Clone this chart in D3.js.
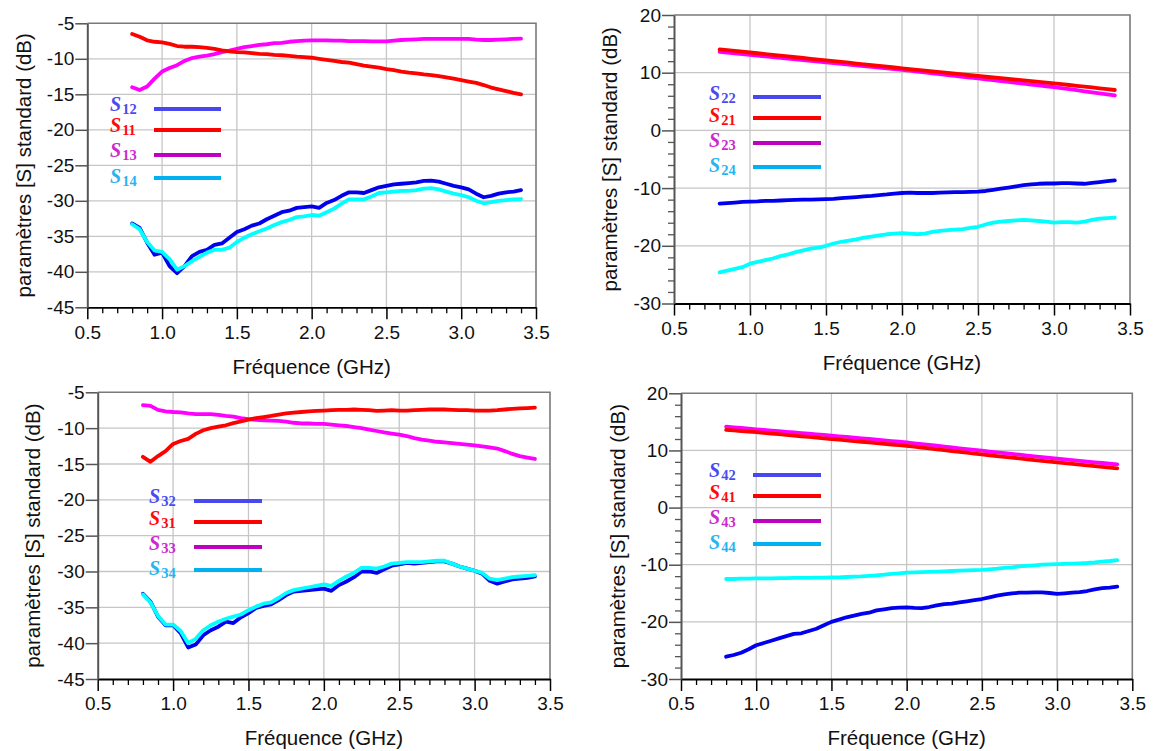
<!DOCTYPE html>
<html><head><meta charset="utf-8">
<script src="https://cdn.jsdelivr.net/npm/d3@7"></script>
<style>body{margin:0;background:#fff}svg{display:block}</style>
</head><body>
<svg id="c" width="1153" height="751"></svg>
<script>
// ---------- DATA ----------
const freq = [0.80,0.85,0.90,0.95,1.00,1.05,1.10,1.15,1.20,1.25,1.30,1.35,1.40,1.45,1.50,1.55,1.60,1.65,1.70,1.75,1.80,1.85,1.90,1.95,2.00,2.05,2.10,2.15,2.20,2.25,2.30,2.35,2.40,2.45,2.50,2.55,2.60,2.65,2.70,2.75,2.80,2.85,2.90,2.95,3.00,3.05,3.10,3.15,3.20,3.25,3.30,3.35,3.40];

const xTickLabels = [0.5,1.0,1.5,2.0,2.5,3.0,3.5];
const yTickLabelsA = [-45,-40,-35,-30,-25,-20,-15,-10,-5];
const yTickLabelsB = [-30,-20,-10,0,10,20];

// Panel 1
const S12 = [-33.2,-33.8,-35.9,-37.6,-37.3, -39.2,-40.2,-39.2,-37.8,-37.2,-36.9,-36.2,-36.0,-35.2,-34.4, -34.0,-33.5,-33.2,-32.6,-32.1,-31.6,-31.4,-31.0,-30.9,-30.8, -31.0,-30.3,-29.9,-29.3,-28.8,-28.8,-28.9,-28.5,-28.1,-27.9, -27.7,-27.6,-27.5,-27.4,-27.2,-27.15,-27.3,-27.6,-27.9,-28.1, -28.4,-29.0,-29.5,-29.3,-29.0,-28.8,-28.7,-28.5];
const S11 = [-6.5,-6.9,-7.4,-7.6,-7.7, -7.9,-8.2,-8.3,-8.3,-8.35,-8.45,-8.6,-8.8,-8.95,-9.05, -9.1,-9.2,-9.3,-9.35,-9.45,-9.5,-9.6,-9.7,-9.75,-9.85, -10.0,-10.15,-10.3,-10.45,-10.55,-10.75,-10.95,-11.1,-11.25,-11.45, -11.6,-11.8,-11.95,-12.05,-12.2,-12.3,-12.45,-12.6,-12.8,-13.0, -13.2,-13.4,-13.7,-14.05,-14.3,-14.55,-14.8,-15.0];
const S13 = [-14.0,-14.4,-13.9,-12.8,-11.8, -11.3,-10.9,-10.3,-9.9,-9.7,-9.55,-9.35,-9.05,-8.85,-8.6, -8.35,-8.2,-8.05,-7.95,-7.8,-7.75,-7.6,-7.5,-7.45,-7.4, -7.4,-7.4,-7.45,-7.45,-7.5,-7.5,-7.5,-7.55,-7.55,-7.55, -7.45,-7.35,-7.3,-7.25,-7.2,-7.2,-7.2,-7.2,-7.2,-7.2, -7.2,-7.3,-7.35,-7.35,-7.3,-7.25,-7.2,-7.15];
const S14 = [-33.3,-34.0,-35.8,-37.0,-37.2, -38.2,-39.7,-39.2,-38.5,-37.9,-37.3,-36.9,-36.9,-36.6,-35.8, -35.2,-34.7,-34.3,-33.9,-33.4,-33.0,-32.7,-32.3,-32.2,-32.0, -32.1,-31.6,-31.1,-30.4,-29.8,-29.8,-29.8,-29.4,-28.9,-28.8, -28.7,-28.6,-28.6,-28.5,-28.3,-28.2,-28.4,-28.7,-29.0,-29.2, -29.5,-30.0,-30.35,-30.2,-30.0,-29.9,-29.8,-29.75];

// Panel 2
const S22 = [-12.7,-12.6,-12.5,-12.4,-12.35, -12.3,-12.2,-12.2,-12.15,-12.1,-12.05,-12.0,-12.0,-11.95,-11.9, -11.85,-11.75,-11.65,-11.55,-11.45,-11.35,-11.2,-11.1,-10.95,-10.85, -10.8,-10.85,-10.85,-10.85,-10.8,-10.75,-10.7,-10.7,-10.65,-10.6, -10.5,-10.3,-10.1,-9.9,-9.7,-9.5,-9.35,-9.25,-9.2,-9.2, -9.15,-9.15,-9.2,-9.25,-9.1,-8.95,-8.8,-8.65];
const S21 = [14.05,13.91,13.78,13.64,13.5, 13.37,13.23,13.09,12.96,12.82,12.68,12.55,12.41,12.27,12.14, 12.0,11.86,11.73,11.59,11.45,11.31,11.18,11.04,10.9,10.76, 10.63,10.5,10.36,10.23,10.1,9.96,9.83,9.7,9.56,9.43, 9.3,9.18,9.05,8.92,8.79,8.67,8.54,8.41,8.29,8.16, 8.02,7.87,7.73,7.58,7.44,7.29,7.15,7.0];
const S23 = [13.6,13.47,13.34,13.21,13.08, 12.95,12.83,12.7,12.57,12.44,12.31,12.18,12.05,11.92,11.79, 11.66,11.53,11.4,11.27,11.14,11.01,10.88,10.76,10.63,10.5, 10.35,10.2,10.05,9.9,9.75,9.6,9.45,9.3,9.15,9.0, 8.85,8.7,8.55,8.4,8.25,8.1,7.95,7.8,7.65,7.5, 7.32,7.14,6.96,6.78,6.6,6.42,6.24,6.05];
const S24 = [-24.6,-24.3,-24.0,-23.7,-23.1, -22.8,-22.5,-22.2,-21.8,-21.5,-21.1,-20.8,-20.5,-20.3,-20.0, -19.6,-19.3,-19.1,-18.9,-18.6,-18.4,-18.2,-18.0,-17.9,-17.8, -17.9,-18.0,-17.9,-17.6,-17.4,-17.3,-17.2,-17.1,-16.9,-16.7, -16.3,-16.0,-15.8,-15.7,-15.6,-15.5,-15.6,-15.7,-15.8,-16.0, -15.9,-15.9,-16.0,-15.8,-15.5,-15.3,-15.2,-15.1];

// Panel 3
const S32 = [-33.1,-34.2,-36.3,-37.5,-37.5, -38.6,-40.6,-40.2,-38.9,-38.2,-37.7,-37.0,-37.2,-36.4,-35.8, -35.1,-34.8,-34.6,-34.0,-33.3,-32.8,-32.7,-32.6,-32.5,-32.4, -32.7,-31.9,-31.4,-30.8,-30.0,-30.0,-30.2,-29.7,-29.2,-29.0, -28.8,-28.9,-28.8,-28.7,-28.6,-28.6,-28.9,-29.3,-29.6,-29.9, -30.3,-31.3,-31.7,-31.4,-31.1,-31.0,-30.9,-30.7];
const S31 = [-14.0,-14.7,-13.9,-13.2,-12.2, -11.8,-11.5,-10.8,-10.3,-10.0,-9.8,-9.6,-9.3,-9.05,-8.8, -8.6,-8.45,-8.3,-8.1,-7.95,-7.85,-7.75,-7.65,-7.6,-7.55, -7.5,-7.45,-7.45,-7.4,-7.45,-7.5,-7.6,-7.55,-7.5,-7.55, -7.55,-7.5,-7.45,-7.4,-7.4,-7.4,-7.45,-7.5,-7.5,-7.55, -7.55,-7.55,-7.5,-7.4,-7.3,-7.25,-7.2,-7.15];
const S33 = [-6.8,-6.9,-7.45,-7.65,-7.75, -7.8,-7.95,-8.05,-8.05,-8.05,-8.15,-8.3,-8.4,-8.6,-8.75, -8.85,-8.9,-8.95,-9.0,-9.1,-9.25,-9.35,-9.35,-9.4,-9.4, -9.5,-9.6,-9.7,-9.85,-10.0,-10.2,-10.4,-10.6,-10.75,-10.9, -11.1,-11.4,-11.6,-11.75,-11.9,-12.0,-12.1,-12.2,-12.3,-12.4, -12.55,-12.7,-12.85,-13.2,-13.6,-13.9,-14.1,-14.3];
const S34 = [-33.2,-34.3,-36.2,-37.4,-37.4, -38.3,-40.0,-39.4,-38.2,-37.5,-37.0,-36.6,-36.3,-36.0,-35.4, -34.9,-34.5,-34.3,-33.7,-33.0,-32.6,-32.4,-32.2,-32.0,-31.8, -32.0,-31.3,-30.7,-30.2,-29.5,-29.5,-29.6,-29.3,-28.9,-28.8, -28.7,-28.7,-28.7,-28.6,-28.5,-28.5,-28.9,-29.3,-29.6,-29.9, -30.2,-31.0,-31.2,-31.0,-30.8,-30.7,-30.6,-30.5];

// Panel 4
const S42 = [-26.1,-25.8,-25.4,-24.8,-24.1, -23.7,-23.3,-22.9,-22.5,-22.1,-22.0,-21.6,-21.2,-20.6,-20.0, -19.6,-19.2,-18.9,-18.6,-18.4,-18.0,-17.8,-17.6,-17.5,-17.45, -17.55,-17.6,-17.4,-17.1,-16.9,-16.8,-16.6,-16.4,-16.2,-16.0, -15.7,-15.4,-15.2,-15.0,-14.9,-14.9,-14.85,-14.85,-14.95,-15.1, -15.0,-14.9,-14.8,-14.6,-14.3,-14.1,-14.0,-13.85];
const S41 = [13.6,13.5,13.4,13.3,13.2, 13.08,12.96,12.84,12.72,12.6,12.48,12.36,12.24,12.12,12.0, 11.88,11.76,11.64,11.52,11.4,11.28,11.16,11.04,10.92,10.8, 10.65,10.5,10.35,10.2,10.05,9.9,9.75,9.6,9.45,9.3, 9.16,9.02,8.88,8.74,8.6,8.46,8.32,8.18,8.04,7.9, 7.77,7.64,7.51,7.38,7.25,7.12,7.0,6.88];
const S43 = [14.15,14.04,13.93,13.81,13.7, 13.59,13.48,13.37,13.26,13.15,13.04,12.93,12.82,12.71,12.6, 12.48,12.36,12.24,12.12,12.0,11.88,11.76,11.64,11.52,11.4, 11.25,11.11,10.96,10.82,10.67,10.53,10.38,10.24,10.09,9.95, 9.81,9.67,9.53,9.39,9.25,9.11,8.97,8.83,8.69,8.55, 8.42,8.3,8.17,8.05,7.92,7.8,7.67,7.55];
const S44 = [-12.5,-12.5,-12.45,-12.45,-12.4, -12.4,-12.4,-12.35,-12.35,-12.3,-12.3,-12.3,-12.25,-12.25,-12.2, -12.2,-12.15,-12.1,-12.05,-11.95,-11.85,-11.75,-11.6,-11.5,-11.4, -11.35,-11.3,-11.25,-11.2,-11.15,-11.1,-11.05,-11.0,-10.95,-10.9, -10.8,-10.7,-10.55,-10.45,-10.3,-10.2,-10.1,-10.0,-9.95,-9.9, -9.85,-9.8,-9.75,-9.7,-9.6,-9.45,-9.35,-9.2];

const subs1 = ["12","11","13","14"];
const subs2 = ["22","21","23","24"];
const subs3 = ["32","31","33","34"];
const subs4 = ["42","41","43","44"];

// ---------- STYLE ----------
const lineColors   = ["#0000ee","#ff0000","#ff00ff","#00ffff"];
const legLineCols  = ["#4848ee","#ff0000","#c000c0","#00b0f0"];
const legTextCols  = ["#4a4af0","#ff0a0a","#cc2acc","#28b4f0"];
const drawOrder = [0,3,2,1]; // blue, cyan, magenta, red

const panels = [
  {x0:87.3,x1:536,y0:23.3,y1:307.3,dom:[-45,-5],yt:yTickLabelsA,minorY:false,
   series:[S12,S11,S13,S14],subs:subs1,legX:110,legL:[154,221],legLineY:[109,130,155,178],legTextY:[111,132,157,183],yTitleX:31,xTitleY:374},
  {x0:674,x1:1130,y0:15,y1:303.5,dom:[-30,20],yt:yTickLabelsB,minorY:true,
   series:[S22,S21,S23,S24],subs:subs2,legX:709,legL:[753,821],legLineY:[97,118,143,167],legTextY:[100,122,147,172],yTitleX:617,xTitleY:370},
  {x0:97.7,x1:550,y0:392.3,y1:679,dom:[-45,-5],yt:yTickLabelsA,minorY:false,
   series:[S32,S31,S33,S34],subs:subs3,legX:149,legL:[194,262],legLineY:[501,522,547,570],legTextY:[503,525,550,575],yTitleX:40,xTitleY:745},
  {x0:681,x1:1132.3,y0:393.3,y1:679,dom:[-30,20],yt:yTickLabelsB,minorY:true,
   series:[S42,S41,S43,S44],subs:subs4,legX:709,legL:[753,821],legLineY:[475,496,521,544],legTextY:[477,499,524,549],yTitleX:625,xTitleY:745}
];

const FONT = "'Liberation Sans', Arial, sans-serif";
const svg = d3.select("#c");

panels.forEach(p => {
  const g = svg.append("g");
  const x = d3.scaleLinear().domain([0.5,3.5]).range([p.x0,p.x1]);
  const y = d3.scaleLinear().domain(p.dom).range([p.y1,p.y0]);

  // grid
  const grid = g.append("g").attr("stroke","#c6c6c6").attr("stroke-width",1.3);
  xTickLabels.slice(1,-1).forEach(v => grid.append("line").attr("x1",x(v)).attr("x2",x(v)).attr("y1",p.y0).attr("y2",p.y1));
  p.yt.slice(1,-1).forEach(v => grid.append("line").attr("x1",p.x0).attr("x2",p.x1).attr("y1",y(v)).attr("y2",y(v)));

  // frame top/right
  g.append("path").attr("d",`M${p.x0},${p.y0}H${p.x1}V${p.y1}`).attr("fill","none").attr("stroke","#7a7a7a").attr("stroke-width",1.6);

  // minor x ticks
  const xMinor = x.ticks(30).filter(v => Math.abs(v*2-Math.round(v*2))>1e-6);
  const gxm = g.append("g").attr("transform",`translate(0,${p.y1})`)
    .call(d3.axisBottom(x).tickValues(xMinor).tickSize(6).tickFormat(""));
  gxm.select(".domain").remove();
  gxm.selectAll("line").attr("stroke","#000").attr("stroke-width",1.3);

  // minor y ticks
  if (p.minorY) {
    const yMinor = y.ticks(25).filter(v => v % 10 !== 0);
    const gym = g.append("g").attr("transform",`translate(${p.x0},0)`)
      .call(d3.axisLeft(y).tickValues(yMinor).tickSize(6).tickFormat(""));
    gym.select(".domain").remove();
    gym.selectAll("line").attr("stroke","#555").attr("stroke-width",1.3);
  }

  // major axes
  const gx = g.append("g").attr("transform",`translate(0,${p.y1})`)
    .call(d3.axisBottom(x).tickValues(xTickLabels).tickSize(12).tickSizeOuter(0).tickPadding(6).tickFormat(d3.format(".1f")));
  gx.select(".domain").attr("stroke","#000").attr("stroke-width",1.8);
  gx.selectAll("line").attr("stroke","#000").attr("stroke-width",1.5);
  gx.selectAll("text").attr("font-family",FONT).attr("font-size",19).attr("fill","#111");

  const gy = g.append("g").attr("transform",`translate(${p.x0},0)`)
    .call(d3.axisLeft(y).tickValues(p.yt).tickSize(12).tickSizeOuter(0).tickPadding(1).tickFormat(d => String(d)));
  gy.select(".domain").attr("stroke","#555").attr("stroke-width",2);
  gy.selectAll("line").attr("stroke","#555").attr("stroke-width",1.5);
  gy.selectAll("text").attr("font-family",FONT).attr("font-size",19).attr("fill","#111");

  // titles
  g.append("text").attr("x",(p.x0+p.x1)/2).attr("y",p.xTitleY).attr("text-anchor","middle")
    .attr("font-family",FONT).attr("font-size",20.5).attr("fill","#111").text("Fréquence (GHz)");
  g.append("text").attr("transform",`translate(${p.yTitleX},${(p.y0+p.y1)/2}) rotate(-90)`).attr("text-anchor","middle")
    .attr("font-family",FONT).attr("font-size",20.5).attr("fill","#111").text("paramètres [S] standard (dB)");

  // data lines
  const line = d3.line().x((d,i) => x(freq[i])).y(d => y(d));
  drawOrder.forEach(k => {
    g.append("path").datum(p.series[k]).attr("d",line).attr("fill","none")
      .attr("stroke",lineColors[k]).attr("stroke-width",3.8)
      .attr("stroke-linejoin","round").attr("stroke-linecap","round");
  });

  // legend
  p.subs.forEach((s,k) => {
    g.append("line").attr("x1",p.legL[0]).attr("x2",p.legL[1]).attr("y1",p.legLineY[k]).attr("y2",p.legLineY[k])
      .attr("stroke",legLineCols[k]).attr("stroke-width",4);
    const t = g.append("text").attr("x",p.legX).attr("y",p.legTextY[k]).attr("fill",legTextCols[k])
      .attr("font-family","'Liberation Serif', 'DejaVu Serif', serif").attr("font-weight","bold");
    t.append("tspan").attr("font-style","italic").attr("font-size",20).text("S");
    t.append("tspan").attr("font-size",14.5).attr("dy",3).attr("dx",1).text(s);
  });
});
</script>
</body></html>
